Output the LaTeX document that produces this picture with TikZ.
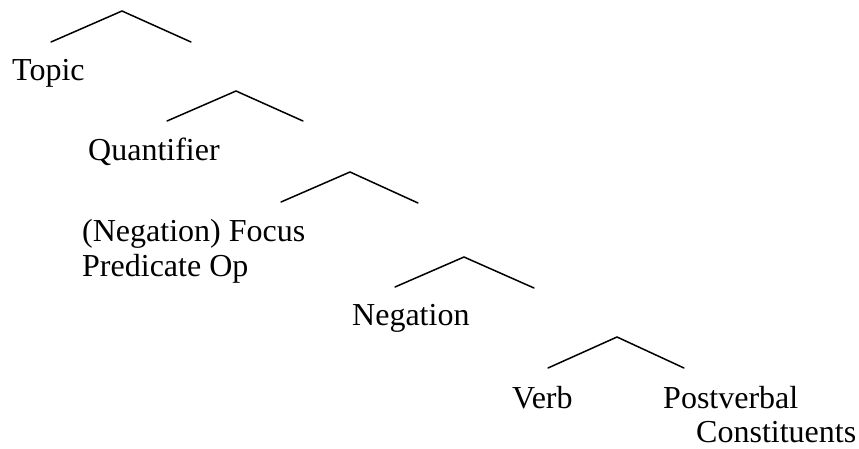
\documentclass[tikz,border=0pt]{standalone}
\usepackage{fontspec}
\setmainfont{Liberation Serif}
\begin{document}
\begin{tikzpicture}[x=1pt,y=-1pt,
  lbl/.style={anchor=base west,inner sep=0pt,font=\fontsize{32}{36}\selectfont},
  arm/.style={line width=1.5pt,line cap=round,line join=miter}]
\useasboundingbox (0,0) rectangle (859,448);
% branch points
\coordinate (l1) at (51,42);  \coordinate (a1) at (122,11);  \coordinate (r1) at (191,42);
\coordinate (l2) at (167,121); \coordinate (a2) at (236,91);  \coordinate (r2) at (303,121);
\coordinate (l3) at (281,202); \coordinate (a3) at (350,172); \coordinate (r3) at (418,203);
\coordinate (l4) at (395,287); \coordinate (a4) at (464,257); \coordinate (r4) at (534,288);
\coordinate (l5) at (548,368); \coordinate (a5) at (617,337); \coordinate (r5) at (684,368);
\foreach \i in {1,...,5} { \draw[arm] (l\i) -- (a\i) -- (r\i); }
% labels
\node[lbl] (topic) at (12,80) {Topic};
\node[lbl] (quant) at (88,160) {Quantifier};
\node[lbl] (focus) at (82,241) {(Negation) Focus};
\node[lbl] (pred) at (82,276) {Predicate Op};
\node[lbl] (neg) at (352,325) {Negation};
\node[lbl] (verb) at (512,408) {Verb};
\node[lbl] (post) at (663,408) {Postverbal};
\node[lbl] (const) at (696,442) {Constituents};
\end{tikzpicture}
\end{document}
